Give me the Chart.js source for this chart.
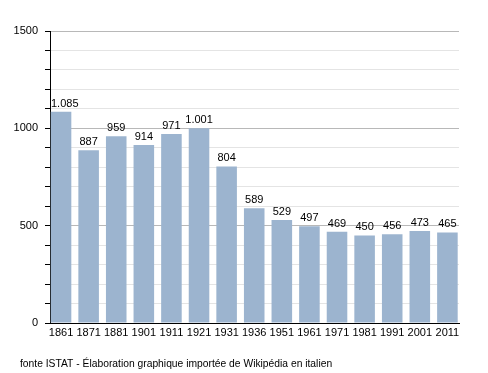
<!DOCTYPE html>
<html>
<head>
<meta charset="utf-8">
<script src="https://cdn.jsdelivr.net/npm/chart.js@4/dist/chart.umd.min.js"></script>
<style>
  body { margin: 0; background: #fff; }
  #wrap { width: 488px; height: 373px; position: relative; }
</style>
</head>
<body>
<div id="wrap"><canvas id="popChart"></canvas></div>
<script>
// census data (ISTAT)
var years = ['1861', '1871', '1881', '1901', '1911', '1921', '1931', '1936', '1951', '1961', '1971', '1981', '1991', '2001', '2011'];
var population = [1085, 887, 959, 914, 971, 1001, 804, 589, 529, 497, 469, 450, 456, 473, 465];
var yTickLabels = [0, 500, 1000, 1500];
var footnote = 'fonte ISTAT - Élaboration graphique importée de Wikipédia en italien';

var FONT = '"Liberation Sans", Arial, sans-serif';

function fmt(n) {
  var s = String(n);
  return s.length > 3 ? s.slice(0, s.length - 3) + '.' + s.slice(s.length - 3) : s;
}

// value labels above bars + footnote
var labelsPlugin = {
  id: 'barLabels',
  afterDatasetsDraw: function (chart) {
    var ctx = chart.ctx;
    var meta = chart.getDatasetMeta(0);
    var left = chart.chartArea.left;
    ctx.save();
    ctx.font = '11px ' + FONT;
    ctx.fillStyle = '#000';
    ctx.textAlign = 'center';
    ctx.textBaseline = 'alphabetic';
    meta.data.forEach(function (bar, i) {
      var txt = fmt(population[i]);
      var w = ctx.measureText(txt).width;
      // keep the label off the y axis
      var x = Math.max(bar.x, left + 1 + w / 2);
      ctx.fillText(txt, x, bar.y - 5);
    });
    ctx.textAlign = 'left';
    ctx.font = '10.3px ' + FONT;
    ctx.fillText(footnote, 20, 367);
    ctx.restore();
  }
};

var ctx = document.getElementById('popChart');
var popChart = new Chart(ctx, {
  type: 'bar',
  data: {
    labels: years,
    datasets: [{
      data: population,
      backgroundColor: '#9cb4cf',
      borderWidth: 0,
      barPercentage: 0.745,
      categoryPercentage: 1
    }]
  },
  options: {
    responsive: true,
    maintainAspectRatio: false,
    animation: false,
    layout: { padding: { left: 0, right: 29, top: 31, bottom: 30 } },
    plugins: {
      legend: { display: false },
      tooltip: { enabled: false }
    },
    scales: {
      x: {
        grid: { display: false, drawTicks: false },
        border: { color: '#000', width: 1 },
        ticks: { color: '#000', font: { family: FONT, size: 11 }, padding: 3, maxRotation: 0, autoSkip: false },
        // bars start almost at the y axis, so shrink the side padding of the category axis
        afterBuildTicks: function (s) {
          s._startValue = -0.40;
          s._valueRange = years.length - 1 + 0.82;
        },
        afterFit: function (s) { s.height = 20; }
      },
      y: {
        min: 0,
        max: 1500,
        border: { color: '#000', width: 1 },
        grid: {
          color: function (c) { return c.tick.value % 500 === 0 ? '#b8b8b8' : '#e4e4e4'; },
          tickColor: '#000',
          tickLength: 5
        },
        ticks: {
          stepSize: 100,
          color: '#000',
          padding: 7,
          font: { family: FONT, size: 11 },
          callback: function (v) { return yTickLabels.indexOf(v) >= 0 ? String(v) : ''; }
        },
        afterFit: function (s) { s.width = 50; }
      }
    }
  },
  plugins: [labelsPlugin]
});
</script>
</body>
</html>
